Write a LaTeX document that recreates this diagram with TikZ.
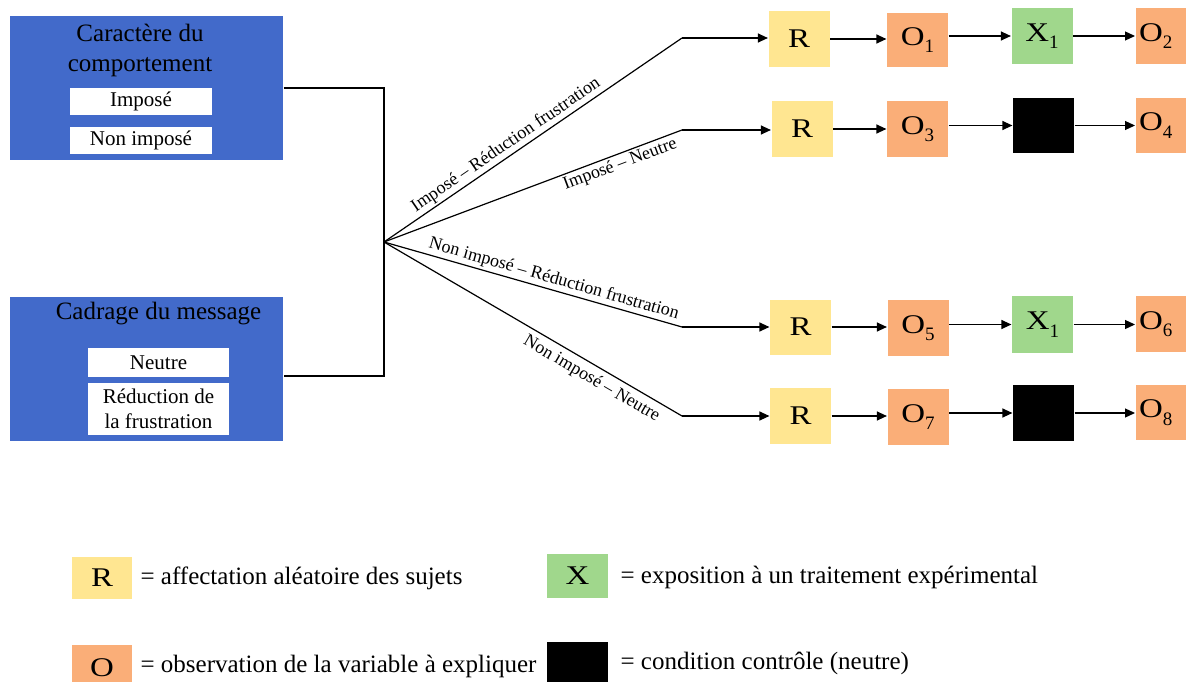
\documentclass[tikz,border=0pt]{standalone}
\usepackage{fontspec}
\setmainfont{Liberation Serif}
\usetikzlibrary{arrows.meta}
\definecolor{cblue}{RGB}{66,106,202}
\definecolor{cyellow}{RGB}{255,230,145}
\definecolor{corange}{RGB}{250,174,120}
\definecolor{cgreen}{RGB}{160,215,140}
\newcommand\stretchtxt[1]{\scalebox{1.22}[1]{#1}}
\newcommand\lowsub[1]{\raisebox{-0.28em}{\fontsize{19}{19}\selectfont #1}}
\begin{document}
\begin{tikzpicture}[x=1pt,y=-1pt,line width=1.2pt,
  box/.style={rectangle, inner sep=0pt, minimum width=61pt, minimum height=56pt, font=\fontsize{27}{27}\selectfont},
  rbox/.style={box, fill=cyellow},
  obox/.style={box, fill=corange},
  xbox/.style={box, fill=cgreen},
  kbox/.style={box, fill=black},
  bluebox/.style={rectangle, fill=cblue, minimum width=273pt, minimum height=144pt, inner sep=0pt},
  wbox/.style={rectangle, fill=white, inner sep=0pt, minimum width=142pt, font=\fontsize{21}{25}\selectfont, align=center},
  titletxt/.style={font=\fontsize{25}{30}\selectfont, align=center, inner sep=0pt},
  arr/.style={-{Triangle[length=10pt,width=9pt]}},
  lbl/.style={font=\fontsize{18}{18}\selectfont, sloped, inner sep=2pt},
  leg/.style={font=\fontsize{25}{25}\selectfont, anchor=west, inner sep=0pt}]
\useasboundingbox (0,0) rectangle (1186,682);
\clip (0,0) rectangle (1186,682);

% left factor boxes
\node[bluebox] (blue1) at (146.5,88) {};
\node[titletxt] (t1) at (140,50) {Caractère du\\comportement};
\node[wbox, minimum height=27pt] (imp) at (141,101.5) {Imposé};
\node[wbox, minimum height=27pt] (nimp) at (141,140.5) {Non imposé};
\node[bluebox] (blue2) at (146.5,369) {};
\node[titletxt] (t2) at (158.5,314) {Cadrage du message};
\node[wbox, minimum width=141pt, minimum height=29pt] (neu) at (158.5,362.5) {Neutre};
\node[wbox, minimum width=141pt, minimum height=52pt] (red) at (158.5,409) {Réduction de\\la frustration};

% bracket and hub
\coordinate (hub) at (384,242);
\draw (blue1.east) -| (hub) |- ([yshift=-7pt]blue2.east);

% fan
\coordinate (k1) at (682,38);
\coordinate (k2) at (682,130);
\coordinate (k3) at (682,327);
\coordinate (k4) at (682,416);
\draw (hub) -- node[lbl, above, pos=0.43] {Imposé – Réduction frustration} (k1);
\draw (hub) -- node[lbl, below, pos=0.78] {Imposé – Neutre} (k2);
\draw (hub) -- node[lbl, above, pos=0.56] {Non imposé – Réduction frustration} (k3);
\draw (hub) -- node[lbl, below=3pt, pos=0.72] {Non imposé – Neutre} (k4);

% row 1
\node[rbox] (R1) at (799,39) {\stretchtxt{R}};
\node[obox, minimum height=54pt] (O1) at (917.5,40) {\stretchtxt{O}\lowsub{1}};
\node[xbox] (X1) at (1042,36) {\stretchtxt{X}\lowsub{1}};
\node[obox, anchor=west] (O2) at (1135,36) {\makebox[54pt][l]{\stretchtxt{O}\lowsub{2}}};
\draw[arr] (k1) -- (k1 -| R1.west);
\draw[arr] (R1.east) -- (R1.east -| O1.west);
\draw[arr] (O1.east |- X1.west) -- (X1.west);
\draw[arr] (X1.east) -- (X1.east -| O2.west);

% row 2
\node[rbox] (R2) at (802,129) {\stretchtxt{R}};
\node[obox] (O3) at (917.5,129) {\stretchtxt{O}\lowsub{3}};
\node[kbox, minimum height=55pt] (K2) at (1043.5,125.5) {};
\node[obox, minimum height=55pt, anchor=west] (O4) at (1135,125.5) {\makebox[54pt][l]{\stretchtxt{O}\lowsub{4}}};
\draw[arr] (k2) -- (k2 -| R2.west);
\draw[arr] (R2.east) -- (R2.east -| O3.west);
\draw[arr] (O3.east |- K2.west) -- (K2.west);
\draw[arr] (K2.east) -- (K2.east -| O4.west);

% row 3
\node[rbox, minimum height=55pt] (R3) at (800.5,327) {\stretchtxt{R}};
\node[obox] (O5) at (918,328) {\stretchtxt{O}\lowsub{5}};
\node[xbox, minimum height=57pt] (X3) at (1042.5,324.5) {\stretchtxt{X}\lowsub{1}};
\node[obox, anchor=west] (O6) at (1135,324) {\makebox[54pt][l]{\stretchtxt{O}\lowsub{6}}};
\draw[arr] (k3) -- (k3 -| R3.west);
\draw[arr] (R3.east) -- (R3.east -| O5.west);
\draw[arr] (O5.east |- X3.west) -- (X3.west);
\draw[arr] (X3.east) -- (X3.east -| O6.west);

% row 4
\node[rbox] (R4) at (800.5,416) {\stretchtxt{R}};
\node[obox] (O7) at (918,417) {\stretchtxt{O}\lowsub{7}};
\node[kbox] (K4) at (1043.5,413) {};
\node[obox, minimum height=55pt, anchor=west] (O8) at (1135,412.5) {\makebox[54pt][l]{\stretchtxt{O}\lowsub{8}}};
\draw[arr] (k4) -- (k4 -| R4.west);
\draw[arr] (R4.east) -- (R4.east -| O7.west);
\draw[arr] (O7.east |- K4.west) -- (K4.west);
\draw[arr] (K4.east) -- (K4.east -| O8.west);

% legend
\node[rbox, minimum width=60pt, minimum height=42pt] (LR) at (102,578) {\stretchtxt{R}};
\node[leg] (LRt) at (140,578) {= affectation aléatoire des sujets};
\node[xbox, minimum width=61pt, minimum height=44pt] (LX) at (577.5,576) {\stretchtxt{X}};
\node[leg] (LXt) at (620,577) {= exposition à un traitement expérimental};
\node[obox, minimum width=60pt, minimum height=46pt] (LO) at (102,668) {\stretchtxt{O}};
\node[leg] (LOt) at (140,666) {= observation de la variable à expliquer};
\node[kbox, minimum width=61pt, minimum height=46pt] (LK) at (577.5,665) {};
\node[leg] (LKt) at (620,663) {= condition contrôle (neutre)};
\end{tikzpicture}
\end{document}
